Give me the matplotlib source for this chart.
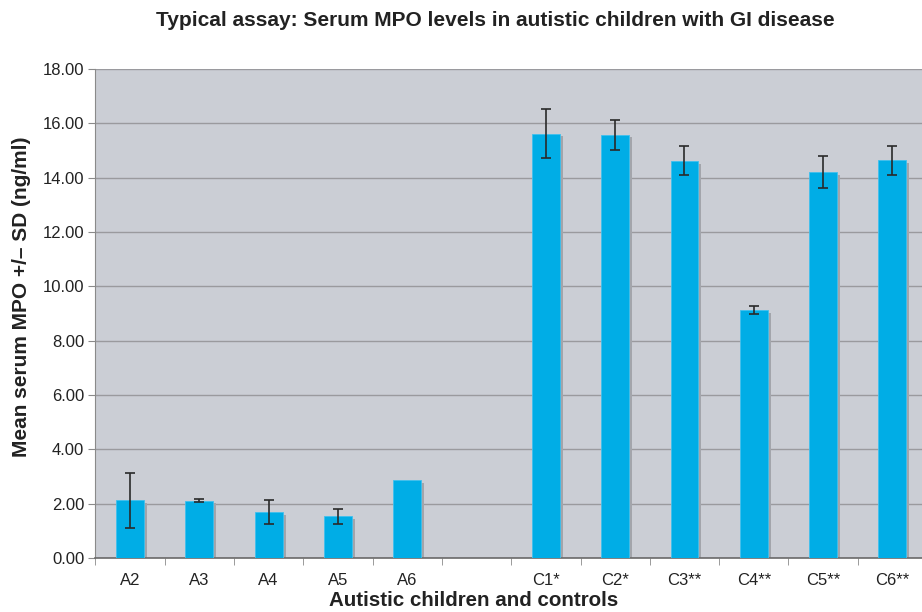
import matplotlib
matplotlib.use("Agg")
import matplotlib.pyplot as plt
import numpy as np

plt.rcParams['font.family'] = ['Liberation Sans', 'DejaVu Sans']

categories = ["A2", "A3", "A4", "A5", "A6", "", "C1*", "C2*", "C3**", "C4**", "C5**", "C6**"]
means = [2.12, 2.11, 1.69, 1.53, 2.86, np.nan, 15.62, 15.58, 14.62, 9.12, 14.20, 14.64]
sds = [1.02, 0.05, 0.45, 0.28, 0.0, np.nan, 0.90, 0.55, 0.53, 0.15, 0.58, 0.54]

fig = plt.figure(figsize=(9.22, 6.12), dpi=100)
ax = fig.add_axes([95.4 / 922, 54 / 612, 831.6 / 922, 489 / 612])
ax.set_facecolor("#cbced5")

x = np.arange(len(categories))
m = np.array(means, dtype=float)
s = np.array(sds, dtype=float)
valid = ~np.isnan(m)
w = 0.4

# shadow
ax.bar(x[valid] + 0.045, m[valid] - 0.1, width=w, color="#a3a5ab", zorder=2)
ax.bar(x[valid], m[valid], width=w, color="#00ade6", edgecolor="#3fc0ee", linewidth=0.6, zorder=3)
ev = valid & (s > 0)
ax.errorbar(x[ev], m[ev], yerr=s[ev], fmt="none", ecolor="#2a2a2a", elinewidth=1.2,
            capsize=3.5, capthick=1.2, zorder=4)

ax.set_xlim(-0.5, 11.5)
ax.set_ylim(0, 18)
ax.set_yticks(np.arange(0, 18.01, 2))
ax.set_yticklabels([f"{v:.2f}" for v in np.arange(0, 18.01, 2)], fontsize=12, color="#222222")
ax.yaxis.grid(True, color="#9a9a9e", linewidth=1.0, zorder=1)
ax.set_axisbelow(True)

ax.set_xticks(x)
ax.set_xticklabels(categories, fontsize=12, color="#222222")
ax.tick_params(axis="x", which="major", length=0, pad=11)
ax.set_xticks(np.arange(-0.5, 11.6, 1), minor=True)
ax.tick_params(axis="x", which="minor", length=5, color="#8a8a8a")
ax.tick_params(axis="y", length=5, color="#8a8a8a", pad=3)

for side in ["top", "right"]:
    ax.spines[side].set_visible(False)
ax.spines["left"].set_color("#8a8a8a")
ax.spines["bottom"].set_color("#6a6a6a")
ax.spines["bottom"].set_linewidth(1.2)

fig.text(22 / 922, 1 - 297 / 612, "Mean serum MPO +/– SD (ng/ml)", ha="center", va="center",
         rotation=90, fontsize=15, fontweight="bold", color="#222222")
fig.text(474 / 922, 1 - 601 / 612, "Autistic children and controls", ha="center", va="center",
         fontsize=14.8, fontweight="bold", color="#222222")
fig.text(495 / 922, 1 - 20 / 612, "Typical assay: Serum MPO levels in autistic children with GI disease",
         ha="center", va="center", fontsize=15, fontweight="bold", color="#222222")

fig.savefig("out.png", dpi=100)
